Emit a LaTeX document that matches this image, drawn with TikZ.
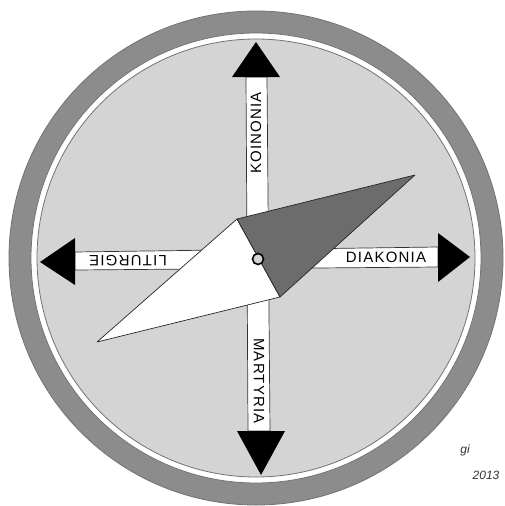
\documentclass[tikz,border=0pt]{standalone}
\usepackage{fontspec}
\setmainfont{Liberation Sans}
\newfontfamily\bandfont[LetterSpace=8]{Liberation Sans}
\usetikzlibrary{positioning}
\definecolor{ringgray}{RGB}{140,140,140}
\definecolor{diskgray}{RGB}{212,212,212}
\definecolor{needledark}{RGB}{108,108,108}

\begin{document}
\begin{tikzpicture}[
  x=1pt, y=-1pt,
  rim/.style={draw=black!55, line width=0.8pt},
  band/.style={draw=black!80, fill=white, line width=0.7pt},
  head/.style={fill=black},
  word/.style={font=\bandfont\fontsize{15}{15}\selectfont, inner sep=0pt},
  needle/.style={draw=black!85, line width=0.7pt, line join=round},
  sign/.style={font=\itshape\fontsize{12}{12}\selectfont, inner sep=0pt, text=black!80}
]
\useasboundingbox (0,0) rectangle (505,506);
\fill[white] (0,0) rectangle (505,506);
% dial
\coordinate (c) at (256,258);
\filldraw[rim, fill=ringgray] (c) circle[radius=247pt];
\filldraw[rim, fill=white]    (c) circle[radius=225pt];
\filldraw[rim, fill=diskgray] (c) circle[radius=219pt];
% cross bands
\filldraw[band] (246,77) -- (267,77) -- (270,431) -- (248,431) -- cycle;
\filldraw[band] (75,252) -- (438,247) -- (438,267) -- (75,270) -- cycle;
% arrow heads
\fill[head] (232,77) -- (256,42) -- (280,77) -- cycle;
\fill[head] (237,431) -- (261,475) -- (285,431) -- cycle;
\fill[head] (75,238) -- (40,262) -- (75,285) -- cycle;
\fill[head] (438,233) -- (470,257) -- (438,282) -- cycle;
% labels
\node[word, rotate=90]  at (256,133) (koinonia) {KOINONIA};
\node[word, rotate=-90] at (259,381) (martyria) {MARTYRIA};
\node[word, rotate=180] at (128,261) (liturgie) {LITURGIE};
\node[word]             at (386,257) (diakonia) {DIAKONIA};
% needle
\coordinate (nw) at (237,219);
\coordinate (ne) at (415,175);
\coordinate (se) at (280,297);
\coordinate (sw) at (97,342);
\filldraw[needle, fill=white]      (nw) -- (se) -- (sw) -- cycle;
\filldraw[needle, fill=needledark] (nw) -- (ne) -- (se) -- cycle;
\filldraw[line width=1.6pt, fill=diskgray] (258,259) circle[radius=5.5pt];
% signature
\node[sign] at (465,450) (signame) {gi};
\node[sign] at (486,475) (sigyear) {2013};
\end{tikzpicture}
\end{document}
